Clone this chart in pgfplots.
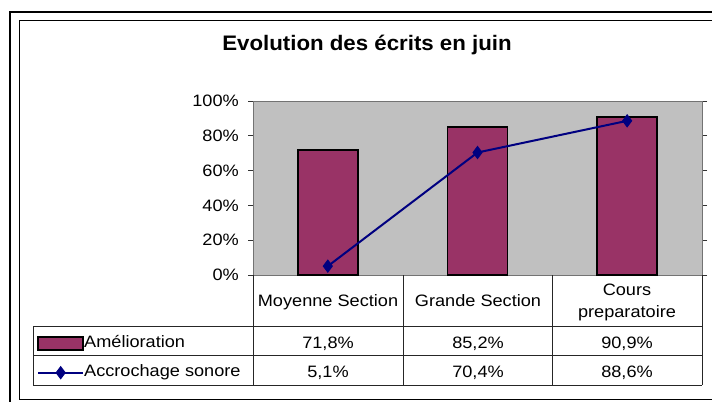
\documentclass[border=0pt]{standalone}
\usepackage{fontspec}
\setmainfont{Liberation Sans}[FakeStretch=1.1]
\newfontfamily\titlefont{Liberation Sans}[FakeStretch=1.06]
\usepackage{pgfplots}
\pgfplotsset{compat=1.18}
\definecolor{plum}{HTML}{993366}
\definecolor{navyline}{HTML}{000080}
\definecolor{plotgray}{HTML}{C0C0C0}
\newcommand\bodyfont{\fontsize{16.5bp}{19bp}\selectfont}

\begin{document}
\begin{tikzpicture}
\begin{scope}[x=1bp,y=1bp]
\path[use as bounding box, fill=white] (0,0) rectangle (712,401);
% chart frames
\draw[line width=1.2bp] (10,-10) -- (10,389) -- (730,389);
\draw[line width=1bp] (730,2) -- (19.5,2) -- (19.5,380) -- (730,380);
\node[font=\titlefont\bfseries\fontsize{21bp}{24bp}\selectfont] at (367,356) {Evolution des écrits en juin};
\end{scope}

\begin{axis}[
    at={(253bp,126bp)}, anchor=south west,
    scale only axis, width=449bp, height=174bp,
    xmin=-0.5, xmax=2.5, ymin=0, ymax=100,
    xtick=\empty,
    ytick={0,20,...,100},
    yticklabels={0\%,20\%,40\%,60\%,80\%,100\%},
    axis background/.style={fill=plotgray},
    axis line style={draw=black!55, line width=0.8bp},
    tick align=outside, major tick length=5bp,
    ytick style={draw=black!80, line width=0.8bp},
    y tick label style={font=\bodyfont, inner sep=0pt, xshift=-9bp},
    legend style={at={(-0.4811,-0.3491)}, anchor=north west, draw=none, fill=none,
        inner sep=0pt, row sep=13.5bp, font=\bodyfont,
        nodes={inner sep=0pt, text height=12bp, text depth=3.5bp},
        /tikz/every odd column/.append style={column sep=0bp}},
    legend cell align=left,
]
\addplot[ybar, bar width=60bp, fill=plum, draw=black, line width=1.5bp,
    legend image code/.code={\draw[fill=plum, draw=black, line width=1.5bp] (0bp,-6.5bp) rectangle (45bp,6.5bp);}]
    coordinates {(0,71.8) (1,85.2) (2,90.9)};
\addlegendentry{Amélioration}
\addplot[navyline, line width=2bp, mark=diamond*, mark size=6bp, mark options={fill=navyline, line width=1bp},
    legend image code/.code={\draw[mark repeat=2, mark phase=2] plot coordinates {(0bp,0bp) (22.5bp,0bp) (45bp,0bp)};}]
    coordinates {(0,5.1) (1,70.4) (2,88.6)};
\addlegendentry{Accrochage sonore}
\end{axis}

\begin{scope}[x=1bp,y=1bp]
% data table under the plot
\begin{scope}[black!85, line width=0.9bp]
\foreach \x in {253,403,552,702} \draw (\x,126) -- (\x,16);
\foreach \y in {75,46,16} \draw (33,\y) -- (702,\y);
\draw (33,75) -- (33,16);
\end{scope}
\begin{scope}[every node/.style={font=\bodyfont, anchor=base, inner sep=0pt}]
\node at (328,95) {Moyenne Section};
\node at (478,95) {Grande Section};
\node at (627,106) {Cours};
\node at (627,84) {preparatoire};
\node at (328,52.5) {71,8\%};
\node at (478,52.5) {85,2\%};
\node at (627,52.5) {90,9\%};
\node at (328,23.5) {5,1\%};
\node at (478,23.5) {70,4\%};
\node at (627,23.5) {88,6\%};
\end{scope}
\end{scope}
\end{tikzpicture}
\end{document}
